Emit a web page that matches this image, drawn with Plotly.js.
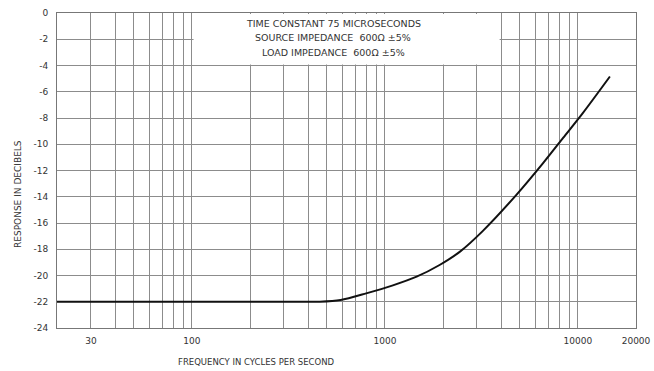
<!DOCTYPE html>
<html>
<head>
<meta charset="utf-8">
<script src="https://cdn.plot.ly/plotly-3.0.1.min.js"></script>
<style>html,body{margin:0;padding:0;background:#fff;}#chart{width:654px;height:371px;}</style>
</head>
<body>
<div id="chart"></div>
<script>
// Response curve (frequency in c/s, response in dB)
const frequency = [20, 360, 460, 590, 800, 1100, 1460, 1920, 2450, 3220, 4800, 6600, 8400, 10600, 14650];
const responseDb = [-22, -22, -22, -21.87, -21.36, -20.75, -20.09, -19.2, -18.18, -16.6, -13.86, -11.44, -9.5, -7.63, -4.84];

// Axis grid / tick definitions
const xGridValues = [20,30,40,50,60,70,80,90,100,200,300,400,500,600,700,800,900,1000,2000,3000,4000,5000,6000,7000,8000,9000,10000,20000];
const xTickLabels = ['', '30', '', '', '', '', '', '', '100', '', '', '', '', '', '', '', '', '1000', '', '', '', '', '', '', '', '', '10000', '20000'];
const yTickValues = [0,-2,-4,-6,-8,-10,-12,-14,-16,-18,-20,-22,-24];
const yTickLabels = ['0','-2','-4','-6','-8','-10','-12','-14','-16','-18','-20','-22','-24'];

const noteLines = ['TIME CONSTANT 75 MICROSECONDS', 'SOURCE IMPEDANCE  600\u03A9 \u00B15%', 'LOAD IMPEDANCE  600\u03A9 \u00B15%'];

const font = 'DejaVu Sans, sans-serif';
const trace = {
  x: frequency, y: responseDb, type: 'scatter', mode: 'lines',
  line: {color: '#111', width: 2, shape: 'spline', smoothing: 0.8},
  hoverinfo: 'skip'
};

const annotations = noteLines.map((t, i) => ({
  xref: 'paper', yref: 'paper', x: (333 - 57) / 579, y: 1 - ((23 + i * 14.5) - 13) / 315,
  text: t, showarrow: false, xanchor: 'center', yanchor: 'middle',
  font: {family: font, size: 9.5, color: '#333'}
}));
annotations.push({
  xref: 'paper', yref: 'paper', x: (256 - 57) / 579, y: -(362 - 328) / 315,
  text: 'FREQUENCY IN CYCLES PER SECOND', showarrow: false, xanchor: 'center', yanchor: 'middle',
  font: {family: font, size: 8.5, color: '#333'}
});
annotations.push({
  xref: 'paper', yref: 'paper', x: -(57 - 18) / 579, y: 1 - (194 - 13) / 315,
  text: 'RESPONSE IN DECIBELS', showarrow: false, textangle: -90, xanchor: 'center', yanchor: 'middle',
  font: {family: font, size: 9, color: '#333'}
});

const layout = {
  width: 654, height: 371,
  margin: {l: 57, r: 18, t: 13, b: 43},
  paper_bgcolor: '#fff', plot_bgcolor: '#fff',
  showlegend: false,
  xaxis: {
    type: 'log', range: [Math.log10(20), Math.log10(20000)],
    tickmode: 'array', tickvals: xGridValues, ticktext: xTickLabels,
    showgrid: true, gridcolor: '#8c8c8c', gridwidth: 1,
    showline: true, linecolor: '#777', linewidth: 1, mirror: true,
    ticks: '', ticklabelstandoff: 4,
    tickfont: {family: font, size: 9, color: '#333'},
    zeroline: false
  },
  yaxis: {
    range: [-24, 0],
    tickmode: 'array', tickvals: yTickValues, ticktext: yTickLabels,
    showgrid: true, gridcolor: '#8c8c8c', gridwidth: 1,
    showline: true, linecolor: '#777', linewidth: 1, mirror: true,
    ticks: '', ticklabelstandoff: 6,
    tickfont: {family: font, size: 9, color: '#333'},
    zeroline: false
  },
  shapes: [{
    type: 'rect', xref: 'x', yref: 'y', x0: 102, x1: 3930, y0: -3.92, y1: -0.08,
    fillcolor: '#fff', line: {width: 0}, layer: 'between'
  }],
  annotations: annotations
};

Plotly.newPlot('chart', [trace], layout, {displayModeBar: false, staticPlot: true});
</script>
</body>
</html>
